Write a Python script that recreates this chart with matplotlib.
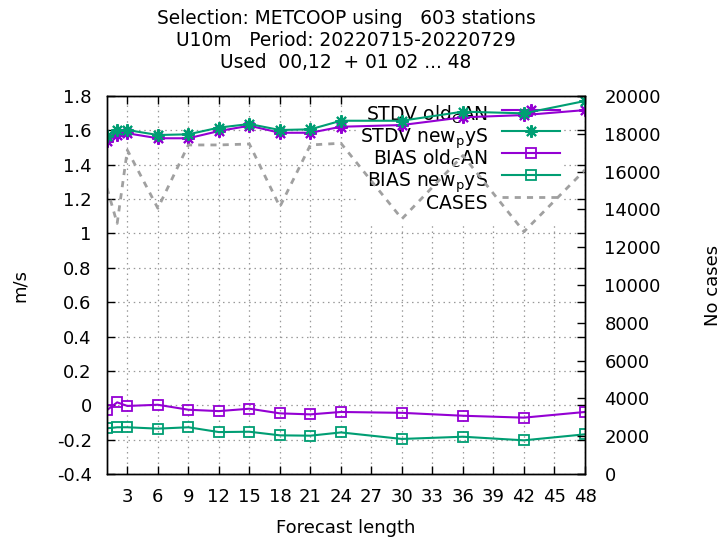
import matplotlib
matplotlib.use("Agg")
import matplotlib.pyplot as plt

# forecast lengths (h) and scores
fclen = [1, 2, 3, 6, 9, 12, 15, 18, 21, 24, 30, 36, 42, 48]
stdv_old = [1.540, 1.573, 1.583, 1.554, 1.554, 1.596, 1.627, 1.586, 1.586, 1.621, 1.631, 1.676, 1.689, 1.718]
stdv_new = [1.567, 1.602, 1.602, 1.573, 1.577, 1.616, 1.637, 1.602, 1.606, 1.656, 1.656, 1.709, 1.699, 1.771]
bias_old = [-0.028, 0.017, -0.004, 0.003, -0.026, -0.034, -0.020, -0.047, -0.053, -0.039, -0.044, -0.061, -0.072, -0.039]
bias_new = [-0.134, -0.128, -0.128, -0.136, -0.128, -0.156, -0.154, -0.175, -0.177, -0.158, -0.196, -0.183, -0.204, -0.169]
cases = [15130, 13260, 17140, 14060, 17410, 17410, 17460, 14140, 17410, 17500, 13500, 16850, 12820, 16090]

xticks = list(range(3, 49, 3))
yticks = [-0.4, -0.2, 0, 0.2, 0.4, 0.6, 0.8, 1, 1.2, 1.4, 1.6, 1.8]
ytick_labels = ["-0.4", "-0.2", "0", "0.2", "0.4", "0.6", "0.8", "1", "1.2", "1.4", "1.6", "1.8"]
y2ticks = list(range(0, 20001, 2000))

title = ("Selection: METCOOP using   603 stations\n"
         "U10m   Period: 20220715-20220729\n"
         "Used  00,12  + 01 02 ... 48")

purple = "#9400d3"
green = "#009e73"
grey = "#a0a0a0"
fs = 13

plt.rcParams["font.family"] = "DejaVu Sans"
plt.rcParams["mathtext.default"] = "regular"

fig = plt.figure(figsize=(7.21, 5.38), dpi=100)
ax = fig.add_axes([107 / 721, 1 - 474 / 538, 478 / 721, 378 / 538])
ax2 = ax.twinx()

star = (8, 2, 0)
l1, = ax.plot(fclen, stdv_old, color=purple, lw=1.5, marker=star, ms=9, mew=1.5,
              label=r"STDV old$_{C}$AN")
l2, = ax.plot(fclen, stdv_new, color=green, lw=1.5, marker=star, ms=9, mew=1.5,
              label=r"STDV new$_{p}$yS")
l3, = ax.plot(fclen, bias_old, color=purple, lw=1.5, marker="s", ms=7, mew=1.3,
              mfc="none", label=r"BIAS old$_{C}$AN")
l4, = ax.plot(fclen, bias_new, color=green, lw=1.5, marker="s", ms=7, mew=1.3,
              mfc="none", label=r"BIAS new$_{p}$yS")
l5, = ax2.plot(fclen, cases, color=grey, lw=2, ls=(0, (2.2, 2.2)), label="CASES")

ax.set_xlim(1, 48)
ax.set_ylim(-0.4, 1.8)
ax2.set_ylim(0, 20000)

ax.set_xticks(xticks)
ax.set_yticks(yticks)
ax.set_yticklabels(ytick_labels)
ax2.set_yticks(y2ticks)

ax.set_axisbelow(True)
ax.grid(True, color="#999999", lw=0.9, ls=(0, (1.2, 3)))

ax.tick_params(axis="both", direction="in", length=6, width=1, labelsize=fs,
               top=True, right=True)
ax.tick_params(axis="y", pad=11)
ax.tick_params(axis="x", pad=10)
ax2.tick_params(axis="y", direction="in", length=6, width=1, labelsize=fs, pad=14)

for a in (ax, ax2):
    for s in a.spines.values():
        s.set_linewidth(1)
        s.set_color("black")

ax.set_ylabel("m/s", fontsize=fs)
ax.yaxis.set_label_coords(-0.163, 0.5)
ax2.set_ylabel("No cases", fontsize=fs)
ax2.yaxis.set_label_coords(1.249, 0.5)
ax.set_xlabel("Forecast length", fontsize=fs)
ax.xaxis.set_label_coords(0.5, -0.119)

ax.set_title(title, fontsize=13.4, pad=20, linespacing=1.2)

# handleheight fixes the row pitch so rows with and without subscripts match
leg = ax.legend(handles=[l1, l2, l3, l4, l5], loc="upper right",
                bbox_to_anchor=(1 - 23 / 478, 1.0), borderaxespad=0,
                borderpad=0.1, markerfirst=False, frameon=True, fancybox=False,
                framealpha=1, edgecolor="none", facecolor="white",
                fontsize=13.5, handlelength=3.1, handletextpad=0.75,
                handleheight=2.5, labelspacing=-0.70)
leg.set_zorder(1.5)

fig.savefig("out.png", dpi=100)
